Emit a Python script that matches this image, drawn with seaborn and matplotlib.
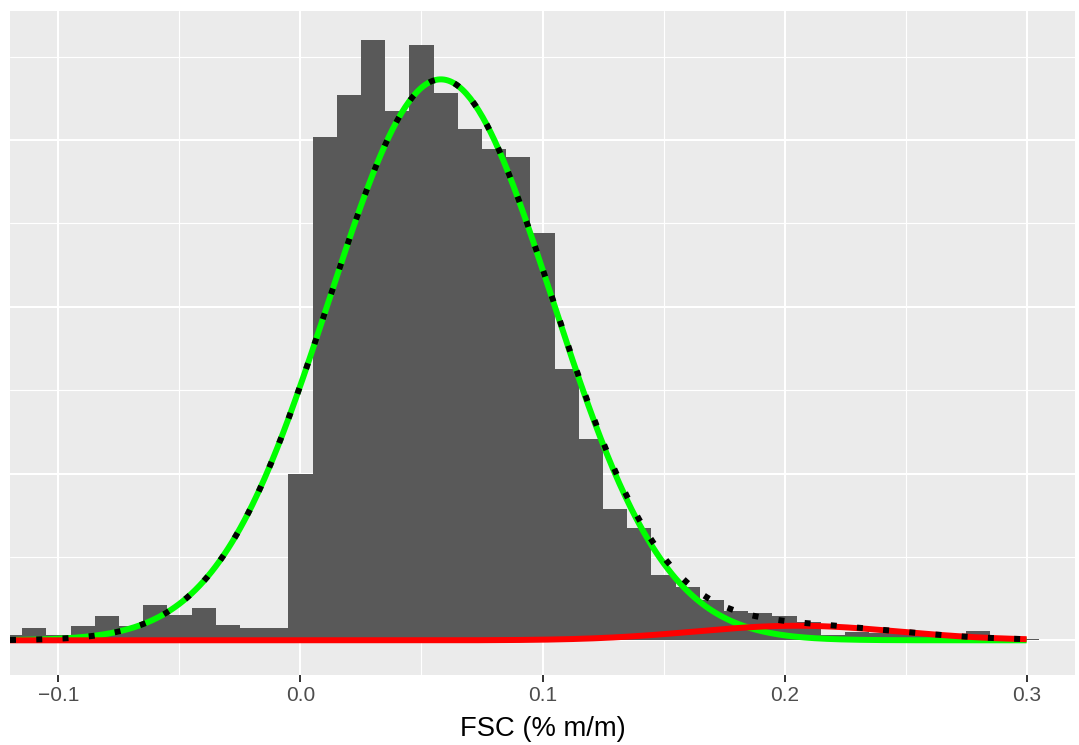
import numpy as np
import pandas as pd
import matplotlib
matplotlib.use("Agg")
import matplotlib.pyplot as plt
from matplotlib.ticker import FixedLocator
import seaborn as sns

# ── Histogram (density scale, binwidth 0.01) ─────────────────
bin_centres = [-0.12, -0.11, -0.10, -0.09, -0.08, -0.07, -0.06, -0.05, -0.04,
               -0.03, -0.02, -0.01, 0.00, 0.01, 0.02, 0.03, 0.04, 0.05, 0.06,
               0.07, 0.08, 0.09, 0.10, 0.11, 0.12, 0.13, 0.14, 0.15, 0.16,
               0.17, 0.18, 0.19, 0.20, 0.21, 0.22, 0.23, 0.24, 0.25, 0.26,
               0.27, 0.28, 0.29, 0.30]
density = [0.08, 0.19, 0.08, 0.22, 0.37, 0.22, 0.53, 0.38, 0.49,
           0.23, 0.19, 0.19, 2.50, 7.54, 8.18, 9.00, 7.94, 8.92, 8.20,
           7.67, 7.37, 7.24, 6.11, 4.07, 3.02, 1.97, 1.69, 0.98, 0.80,
           0.61, 0.44, 0.41, 0.37, 0.28, 0.08, 0.13, 0.11, 0.11, 0.09,
           0.09, 0.14, 0.06, 0.02]

# ── Two-component normal mixture (fitted) ────────────────────
comp_means = [0.058, 0.205]
comp_sds = [0.0462, 0.042]
comp_weights = [0.974, 0.023]

x_ticks = [-0.1, 0.0, 0.1, 0.2, 0.3]
x_tick_labels = ["\u22120.1", "0.0", "0.1", "0.2", "0.3"]


def norm_pdf(x, mu, sd):
    return np.exp(-0.5 * ((x - mu) / sd) ** 2) / (sd * np.sqrt(2 * np.pi))


xs = np.linspace(-0.12, 0.30, 500)
green = comp_weights[0] * norm_pdf(xs, comp_means[0], comp_sds[0])
red = comp_weights[1] * norm_pdf(xs, comp_means[1], comp_sds[1])
mix = green + red

hist_df = pd.DataFrame({"fsc": bin_centres, "dens": density})

# ── Style ────────────────────────────────────────────────────
sns.set_theme(style="darkgrid")
plt.rcParams["font.family"] = ["Liberation Sans", "DejaVu Sans"]
plt.rcParams["axes.facecolor"] = "#EBEBEB"

fig = plt.figure(figsize=(10.79, 7.45), dpi=100)
ax = fig.add_axes([10 / 1079, 1 - 675 / 745, 1065 / 1079, (675 - 10.7) / 745])

sns.histplot(data=hist_df, x="fsc", weights="dens",
             binwidth=0.01, binrange=(-0.125, 0.305), stat="count",
             color="#595959", alpha=1, linewidth=0, ax=ax, zorder=2)

sns.lineplot(x=xs, y=green, color="#00FF00", linewidth=4.3,
             solid_capstyle="butt", ax=ax, zorder=3)
sns.lineplot(x=xs, y=red, color="#FF0000", linewidth=4.3,
             solid_capstyle="butt", ax=ax, zorder=4)
sns.lineplot(x=xs, y=mix, color="black", linewidth=4.3,
             linestyle=(0, (1, 3.4)), dash_capstyle="butt", ax=ax, zorder=5)

ax.set_xlim(-0.12, 0.32)
ax.set_ylim(-0.52, 9.44)

ax.xaxis.set_major_locator(FixedLocator(x_ticks))
ax.set_xticklabels(x_tick_labels)
ax.xaxis.set_minor_locator(FixedLocator([-0.05, 0.05, 0.15, 0.25]))
ax.yaxis.set_major_locator(FixedLocator([0, 2.5, 5, 7.5]))
ax.yaxis.set_minor_locator(FixedLocator([1.25, 3.75, 6.25, 8.75]))

ax.grid(which="major", color="white", linewidth=1.5)
ax.grid(which="minor", color="white", linewidth=0.8)
ax.set_axisbelow(True)

ax.tick_params(axis="x", which="major", length=5, width=1.4, color="#333333",
               labelcolor="#4D4D4D", labelsize=15, pad=3, bottom=True)
ax.tick_params(axis="x", which="minor", length=0)
ax.tick_params(axis="y", which="both", length=0, labelleft=False)

for s in ax.spines.values():
    s.set_visible(False)

ax.set_xlabel("FSC (% m/m)", fontsize=19.7, color="black", labelpad=8)
ax.set_ylabel("")

fig.savefig("out.png", dpi=100, facecolor="white")
